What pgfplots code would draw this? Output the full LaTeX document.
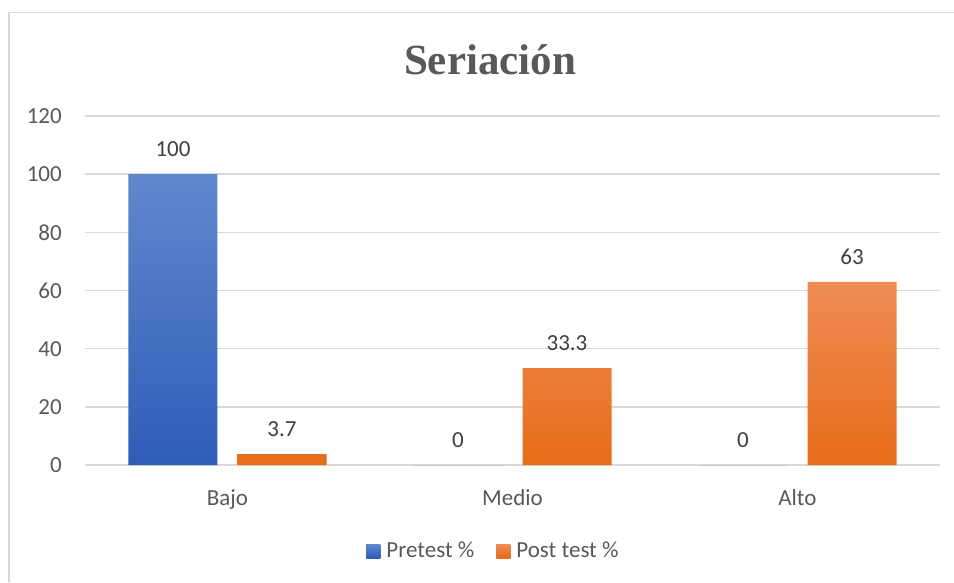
\documentclass[border=0pt]{standalone}
\usepackage{fontspec}
\setmainfont{Carlito}
\newfontfamily\titlefont{Liberation Serif}
\usepackage{pgfplots}
\pgfplotsset{compat=1.18}
\definecolor{txt}{HTML}{595959}
\definecolor{lbl}{HTML}{404040}
\definecolor{gridc}{HTML}{D9D9D9}
\definecolor{bluetop}{HTML}{6088CD}
\definecolor{bluebot}{HTML}{2E5DB7}
\definecolor{bluemid}{HTML}{3F6DC4}
\definecolor{orgtop}{HTML}{F08C56}
\definecolor{orgbot}{HTML}{E66C18}
\definecolor{orgmid}{HTML}{F07D2C}
\begin{document}
\begin{tikzpicture}[x=1pt,y=1pt]
\path[use as bounding box] (0,0) rectangle (954,582);
\fill[white] (0,0) rectangle (954,582);
\draw[gridc, line width=1.5pt] (9,0) -- (9,569.5) -- (954,569.5);
\node[anchor=base, font=\titlefont\bfseries\fontsize{43}{50}\selectfont, text=txt, inner sep=0pt] at (490,507) {Seriación};
\begin{axis}[
  at={(85pt,117pt)}, anchor=south west,
  scale only axis, width=855pt, height=349pt,
  xmin=-0.5, xmax=2.5, ymin=0, ymax=120,
  ybar=20pt, bar width=89pt,
  xtick={0,1,2}, xticklabels={Bajo,Medio,Alto},
  ytick={0,20,...,120},
  ymajorgrids, grid style={gridc, line width=1.5pt},
  axis line style={draw=none},
  major tick length=0pt,
  tick label style={font=\fontsize{23}{27}\selectfont, text=txt},
  yticklabel style={anchor=east, inner sep=0pt, xshift=-23pt},
  xticklabel style={anchor=base, inner sep=0pt, yshift=-40pt},
  /pgf/number format/assume math mode=true,
  nodes near coords,
  nodes near coords style={font=\fontsize{23}{27}\selectfont, text=lbl, inner sep=0pt, anchor=south, yshift=17pt},
  legend columns=2,
  legend style={at={(0.4778,-0.2436)}, anchor=center, draw=none, fill=none,
    font=\fontsize{23}{27}\selectfont, text=txt,
    /tikz/every even column/.append style={column sep=20pt}},
]
\addplot[draw=none, top color=bluetop, bottom color=bluebot,
  legend image code/.code={\path (0pt,0pt) -- (18pt,0pt);\fill[bluemid] (0pt,-8pt) rectangle (14pt,6pt);}]
  coordinates {(0,100) (1,0) (2,0)};
\addlegendentry{Pretest \%}
\addplot[draw=none, top color=orgtop, bottom color=orgbot,
  legend image code/.code={\path (0pt,0pt) -- (18pt,0pt);\fill[orgmid] (0pt,-8pt) rectangle (14pt,6pt);}]
  coordinates {(0,3.7) (1,33.3) (2,63)};
\addlegendentry{Post test \%}
\end{axis}
\end{tikzpicture}
\end{document}
